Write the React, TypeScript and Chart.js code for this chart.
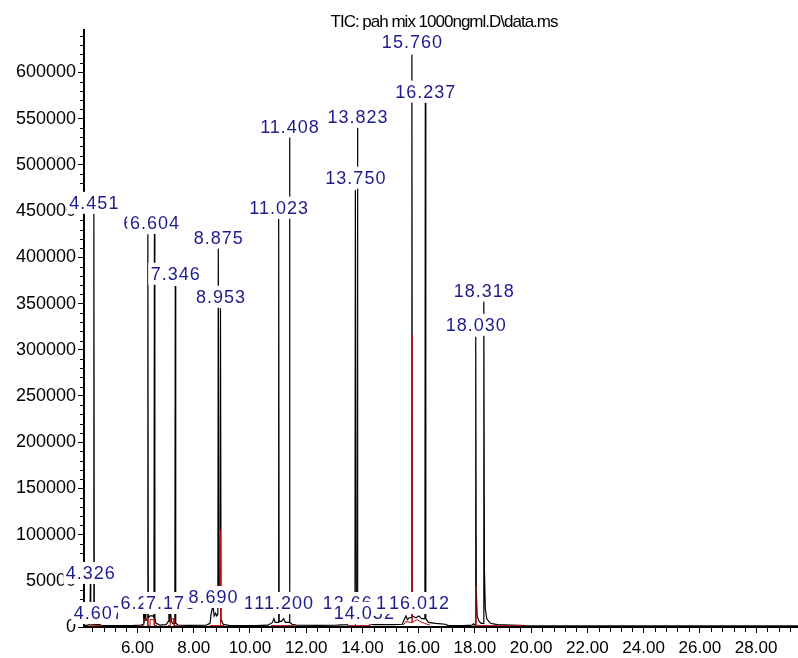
import React, { useEffect, useRef } from "react";
import { Chart, registerables } from "chart.js";

Chart.register(...registerables);

const TITLE = "TIC: pah mix 1000ngml.D\\data.ms";

// Axis ranges (minutes / abundance)
const X_MIN = 4.1;
const X_MAX = 29.49;
const Y_MAX = 646000;
const X_MAJOR = 2;
const X_MINOR = 0.4;
const Y_MAJOR = 50000;
const Y_MINOR = 10000;

// Tick labels
const xTickValues = [6, 8, 10, 12, 14, 16, 18, 20, 22, 24, 26, 28];
const yTickValues = [0, 50000, 100000, 150000, 200000, 250000, 300000, 350000, 400000, 450000, 500000, 550000, 600000];

// Black TIC trace (retention time in min, abundance)
const traceTimes = [
  4.1, 4.25, 4.31, 4.326, 4.34, 4.36, 4.435, 4.451, 4.467, 4.52, 4.59, 4.607, 4.625, 4.72,
  5.2, 5.8, 6.12, 6.2, 6.22, 6.245, 6.271, 6.3, 6.355, 6.371, 6.387, 6.45, 6.55, 6.588, 6.604,
  6.62, 6.66, 6.8, 7.02, 7.1, 7.12, 7.145, 7.175, 7.21, 7.25, 7.33, 7.346, 7.362, 7.45, 7.9,
  8.45, 8.58, 8.62, 8.66, 8.69, 8.73, 8.78, 8.82, 8.86, 8.875, 8.905, 8.938, 8.953, 8.975,
  9.05, 9.25, 10.2, 10.65, 10.8, 10.853, 10.9, 11.008, 11.023, 11.04, 11.12, 11.2, 11.26,
  11.392, 11.408, 11.425, 11.5, 11.65, 12.4, 13.1, 13.45, 13.55, 13.6, 13.661, 13.7, 13.735,
  13.75, 13.785, 13.808, 13.823, 13.84, 13.95, 14.052, 14.15, 14.4, 15.1, 15.42, 15.5, 15.549,
  15.6, 15.66, 15.745, 15.76, 15.778, 15.9, 16.012, 16.1, 16.222, 16.237, 16.255, 16.35, 16.6,
  16.95, 17.05, 17.6, 17.9, 17.95, 18.0, 18.015, 18.03, 18.05, 18.08, 18.15, 18.22, 18.303,
  18.318, 18.34, 18.37, 18.42, 18.55, 18.8, 19.3, 19.8, 22.0, 29.49,
];
const traceValues = [
  1500, 2000, 3000, 47000, 5000, 3000, 3000, 448000, 3000, 2500, 3000, 6500, 3000, 1800,
  1500, 1500, 2000, 3000, 14000, 8000, 16000, 7000, 8000, 425000, 10000, 12000, 12000, 10000, 427000,
  10000, 4000, 2000, 2500, 6000, 15000, 9000, 17000, 6000, 4000, 4000, 369000, 4000, 2000, 1800,
  2000, 4000, 14000, 20000, 22000, 12000, 15000, 12000, 14000, 410000, 30000, 30000, 345000, 8000,
  3000, 1800, 1500, 2000, 5000, 9000, 5000, 5000, 442000, 6000, 6000, 9000, 5000,
  5000, 530600, 5000, 3000, 2000, 1800, 2000, 2500, 6000, 8000, 7000, 6000, 6000,
  473000, 25000, 25000, 540400, 6000, 6000, 8000, 4000, 2500, 2500, 3000, 9000, 12000,
  8000, 10000, 10000, 619400, 12000, 10000, 12000, 9000, 9000, 567500, 9000, 5000, 4000,
  3000, 1500, 1500, 2000, 3500, 2500, 3000, 314000, 40000, 12000, 6000, 4000, 4000,
  353000, 60000, 20000, 9000, 4000, 2500, 2000, 1500, 1200, 1200,
];

// Red integration trace (null = gap)
const redTimes = [
  4.3, 4.75, 4.76,
  6.15, 6.22, 6.22, 6.37, 6.37, 6.45, 6.45, 6.6, 6.6, 6.7, 6.71,
  7.08, 7.17, 7.17, 7.3, 7.3, 7.42, 7.43,
  8.58, 8.945, 8.945, 8.96, 8.96, 9.1, 9.11,
  10.75, 11.6, 11.61,
  13.45, 13.752, 13.752, 13.76, 14.3, 14.31,
  15.45, 15.55, 15.7, 15.765, 15.765, 15.77, 15.77, 15.95, 16.05, 16.2, 16.4, 16.41,
  17.95, 18.032, 18.032, 18.04, 19.7,
];
const redValues = [
  1500, 1500, null,
  1500, 1500, 9000, 9000, 1500, 1500, 8000, 8000, 1500, 1500, null,
  1500, 1500, 9000, 9000, 1500, 1500, null,
  1500, 1500, 105000, 105000, 1500, 1500, null,
  1500, 1500, null,
  1500, 1500, 36000, 1500, 1500, null,
  2000, 6000, 5000, 5000, 316000, 316000, 5000, 8000, 6000, 4000, 2000, null,
  1500, 1500, 45000, 1500, 1500,
];

// Peak annotations
const peakLabelTimes = [
  4.326, 4.451, 4.607, 6.271, 6.371, 6.604, 7.175, 7.346, 8.69, 8.875, 8.953, 10.853, 11.023,
  11.2, 11.408, 13.661, 13.75, 13.823, 14.052, 15.549, 15.76, 16.012, 16.237, 18.03, 18.318,
];
const peakLabelTexts = [
  "4.326", "4.451", "4.607", "6.271", "6.371", "6.604", "7.175", "7.346", "8.690", "8.875",
  "8.953", "10.853", "11.023", "11.200", "11.408", "13.661", "13.750", "13.823", "14.052",
  "15.549", "15.760", "16.012", "16.237", "18.030", "18.318",
];
const peakLabelLevels = [
  58500, 459000, 15200, 26000, 437500, 437500, 26000, 382300, 32500, 421300, 357400, 26000,
  453800, 26000, 541500, 26000, 486200, 552300, 15200, 26000, 633500, 26000, 579400, 327000,
  363900,
];

const FONT = '"Liberation Sans", Arial, Helvetica, sans-serif';

const overlayPlugin = {
  id: "overlay",
  afterDraw(chart: any) {
    const { ctx, chartArea, scales } = chart;
    const xs = scales.x;
    const ys = scales.y;
    ctx.save();
    // minor ticks
    ctx.strokeStyle = "#000";
    ctx.lineWidth = 1;
    ctx.beginPath();
    for (let k = 0; k * Y_MINOR <= Y_MAX; k++) {
      const v = k * Y_MINOR;
      if (v % Y_MAJOR === 0) continue;
      const py = Math.round(ys.getPixelForValue(v)) + 0.5;
      ctx.moveTo(chartArea.left - 4, py);
      ctx.lineTo(chartArea.left, py);
    }
    const ratio = Math.round(X_MAJOR / X_MINOR);
    for (let k = Math.ceil(X_MIN / X_MINOR); k * X_MINOR <= X_MAX; k++) {
      if (k % ratio === 0) continue;
      const px = Math.round(xs.getPixelForValue(k * X_MINOR)) + 0.5;
      ctx.moveTo(px, chartArea.bottom);
      ctx.lineTo(px, chartArea.bottom + 5);
    }
    ctx.stroke();

    // peak labels with white boxes
    ctx.font = `18px ${FONT}`;
    (ctx as any).letterSpacing = "1px";
    ctx.textAlign = "center";
    ctx.textBaseline = "middle";
    peakLabelTimes.forEach((t, i) => {
      const text = peakLabelTexts[i];
      const px = xs.getPixelForValue(t);
      const py = ys.getPixelForValue(peakLabelLevels[i]);
      const w = ctx.measureText(text).width;
      ctx.fillStyle = "#ffffff";
      ctx.fillRect(px - w / 2 - 2, py - 11, w + 4, 22);
      ctx.fillStyle = "#1c1c8c";
      ctx.fillText(text, px + 0.5, py + 1);
    });

    // title
    ctx.font = `17px ${FONT}`;
    (ctx as any).letterSpacing = "-1px";
    ctx.fillStyle = "#000";
    ctx.textAlign = "center";
    ctx.textBaseline = "alphabetic";
    ctx.fillText(TITLE, (chartArea.left + chartArea.right) / 2 + 3, 27);
    ctx.restore();
  },
};

export default function App() {
  const ref = useRef<HTMLCanvasElement>(null);
  useEffect(() => {
    document.body.style.margin = "0";
    const black = traceTimes.map((t, i) => ({ x: t, y: traceValues[i] }));
    const red = redTimes.map((t, i) => ({ x: t, y: redValues[i] }));
    const chart = new Chart(ref.current as HTMLCanvasElement, {
      type: "line",
      data: {
        datasets: [
          {
            data: red as any,
            borderColor: "#b21010",
            borderWidth: 1,
            pointRadius: 0,
            tension: 0,
            spanGaps: false,
            order: 0,
          },
          {
            data: black as any,
            borderColor: "#000000",
            borderWidth: 1.2,
            pointRadius: 0,
            tension: 0,
            order: 1,
          },
        ],
      },
      options: {
        responsive: false,
        animation: false,
        events: [],
        layout: { padding: { top: 30, left: 0, right: 0, bottom: 0 } },
        plugins: { legend: { display: false }, tooltip: { enabled: false }, title: { display: false } },
        scales: {
          x: {
            type: "linear",
            min: X_MIN,
            max: X_MAX,
            grid: { drawOnChartArea: false, drawTicks: true, tickLength: 6, color: "#000" },
            border: { color: "#000", width: 2 },
            ticks: {
              autoSkip: false,
              maxRotation: 0,
              padding: 5,
              color: "#000",
              font: { family: FONT, size: 17 },
              callback: (v: any) => Number(v).toFixed(2),
            },
            afterBuildTicks: (s: any) => {
              s.ticks = xTickValues.map((v) => ({ value: v }));
            },
            afterFit: (s: any) => {
              s.height = 31;
            },
          },
          y: {
            type: "linear",
            min: 0,
            max: Y_MAX,
            grid: { drawOnChartArea: false, drawTicks: true, tickLength: 6, color: "#000" },
            border: { color: "#000", width: 2 },
            ticks: {
              autoSkip: false,
              padding: 2,
              color: "#000",
              font: { family: FONT, size: 18 },
              callback: (v: any) => String(v),
            },
            afterBuildTicks: (s: any) => {
              s.ticks = yTickValues.map((v) => ({ value: v }));
            },
            afterFit: (s: any) => {
              s.width = 84;
            },
          },
        },
      },
      plugins: [overlayPlugin],
    });
    return () => chart.destroy();
  }, []);
  return (
    <div style={{ width: 798, height: 658, background: "#fff" }}>
      <canvas ref={ref} width={798} height={658} style={{ display: "block", width: 798, height: 658 }} />
    </div>
  );
}
